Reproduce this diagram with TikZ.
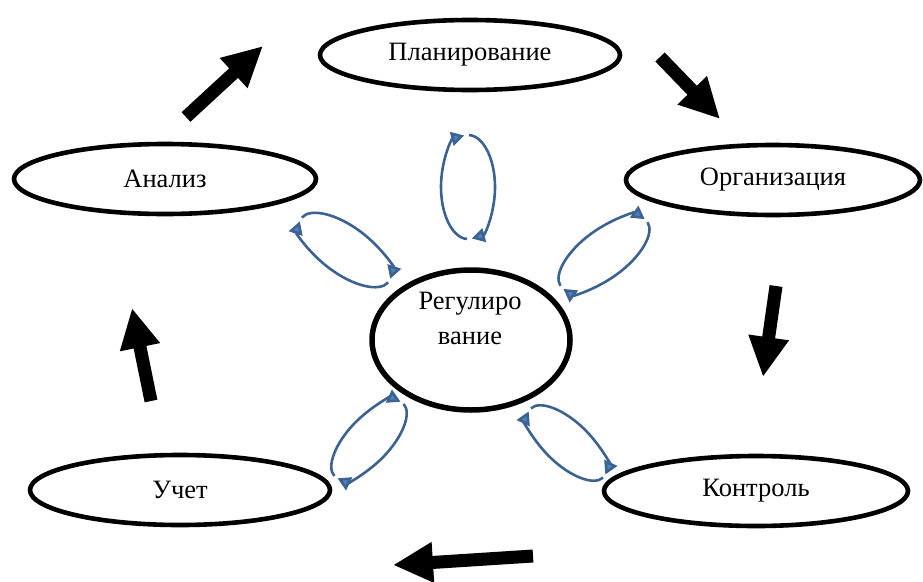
\documentclass[tikz,border=0pt]{standalone}
\usepackage{fontspec}
\setmainfont{Liberation Serif}
\usetikzlibrary{shapes.geometric,arrows.meta}
\definecolor{loopdraw}{RGB}{60,98,148}
\definecolor{loopfill}{RGB}{79,129,189}
\tikzset{
  oval/.style={ellipse, draw=black, line width=4.6pt, minimum width=300pt, minimum height=70pt, inner sep=0pt, font=\fontsize{26.5}{31}\selectfont},
  lbl/.style={inner sep=0pt, font=\fontsize{26.5}{31}\selectfont},
  bigarrow/.style={line width=13pt, -{Triangle[length=40pt,width=38pt]}},
  looparc/.style={draw=loopdraw, line width=2.6pt, -{Triangle[length=13pt,width=14pt,fill=loopfill]}}
}
\begin{document}
\begin{tikzpicture}[x=1pt,y=1pt]
\useasboundingbox (0,0) rectangle (923,-581);
% outer ovals
\node[oval] (plan) at (470,-55) {Планирование};
\node[oval, minimum width=294pt] (org) at (773,-180) {Организация};
\node[oval, minimum width=302pt] (anal) at (165,-179) {Анализ};
\node[oval] (uchet) at (180,-490) {Учет};
\node[oval, minimum width=304pt] (kontr) at (756,-491) {Контроль};
% central oval
\node[ellipse, draw=black, line width=5.5pt, minimum width=198pt, minimum height=140pt, inner sep=0pt] (reg) at (471,-340) {};
\node[lbl, anchor=base] (reg1) at (470,-309) {Регулиро};
\node[lbl, anchor=base] (reg2) at (470,-344) {вание};
% thick arrows
\coordinate (a1s) at (186,-117); \coordinate (a1e) at (263,-46);
\coordinate (a2s) at (660,-57);  \coordinate (a2e) at (720,-119);
\coordinate (a3s) at (776,-286); \coordinate (a3e) at (763,-377);
\coordinate (a4s) at (533,-556); \coordinate (a4e) at (393,-565);
\coordinate (a5s) at (151,-401); \coordinate (a5e) at (132,-308);
\draw[bigarrow] (a1s) -- (a1e);
\draw[bigarrow] (a2s) -- (a2e);
\draw[bigarrow] (a3s) -- (a3e);
\draw[bigarrow] (a4s) -- (a4e);
\draw[bigarrow] (a5s) -- (a5e);
% circular arrows
\foreach \cx/\cy/\rot/\ra/\rb in {468/187/90/52/27, 345/250/-36/54/24, 604/254/37/54/24, 369/440/47/50/22, 567/443/-43/50/22}{
  \begin{scope}[shift={(\cx,-\cy)}, rotate=\rot]
    \draw[looparc] (178:\ra pt and \rb pt) arc[start angle=178, end angle=8, x radius=\ra pt, y radius=\rb pt];
    \draw[looparc] (-2:\ra pt and \rb pt) arc[start angle=-2, end angle=-172, x radius=\ra pt, y radius=\rb pt];
  \end{scope}
}
\end{tikzpicture}
\end{document}
